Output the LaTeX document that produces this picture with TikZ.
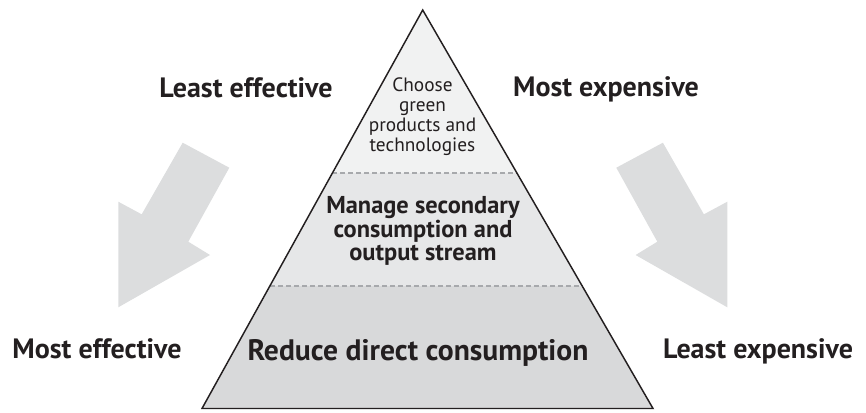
\documentclass[tikz,border=0pt]{standalone}
\usepackage{fontspec}
\setmainfont{PT Sans}
\usetikzlibrary{calc}
\definecolor{arrowgray}{HTML}{DCDDDE}
\definecolor{topfill}{HTML}{F1F2F2}
\definecolor{midfill}{HTML}{E6E7E8}
\definecolor{botfill}{HTML}{D8D9DA}
\definecolor{dashgray}{HTML}{A7A9AC}
\definecolor{textblack}{HTML}{231F20}
\tikzset{
  biglabel/.style={anchor=base, text=textblack, font=\bfseries\fontsize{21}{24}\selectfont, inner sep=0pt},
  tierline/.style={draw=dashgray, line width=0.8pt, dash pattern=on 3.5pt off 2.5pt},
  bigarrow/.style={fill=arrowgray, draw=none},
}
\begin{document}
\begin{tikzpicture}[x=0.75pt, y=-0.75pt]
\useasboundingbox (0,0) rectangle (866,412);
% pyramid corners
\coordinate (A) at (422.7,10);
\coordinate (BL) at (202,408.5);
\coordinate (BR) at (653,408.5);
\coordinate (L1) at ($(A)!{163/398.5}!(BL)$);
\coordinate (R1) at ($(A)!{163/398.5}!(BR)$);
\coordinate (L2) at ($(A)!{276/398.5}!(BL)$);
\coordinate (R2) at ($(A)!{276/398.5}!(BR)$);
% arrows
\fill[bigarrow] (182.7,142.7) -- (229.3,167.7) -- (188.3,241.7) -- (210,255) -- (118.3,307.3) -- (118.3,201.7) -- (141.7,214.3) -- cycle;
\fill[bigarrow] (662.9,142.7) -- (616.3,167.7) -- (657.3,241.7) -- (635.6,255) -- (727.3,307.3) -- (727.3,201.7) -- (703.9,214.3) -- cycle;
% tiers
\fill[topfill] (A) -- (L1) -- (R1) -- cycle;
\fill[midfill] (L1) -- (L2) -- (R2) -- (R1) -- cycle;
\fill[botfill] (L2) -- (BL) -- (BR) -- (R2) -- cycle;
\draw[tierline] (L1) -- (R1);
\draw[tierline] (L2) -- (R2);
\draw[line width=1.1pt, line join=miter, textblack] (A) -- (BL) -- (BR) -- cycle;
% tier texts
\node[align=center, text=textblack, inner sep=0pt, font=\fontsize{14.5}{15}\selectfont] (t1) at (422.5,117) {Choose\\green\\products and\\technologies};
\node[align=center, text=textblack, inner sep=0pt, font=\bfseries\fontsize{18.3}{17.6}\selectfont] (t2) at (423,231) {Manage secondary\\consumption and\\output stream};
\node[anchor=base, text=textblack, inner sep=0pt, font=\bfseries\fontsize{22.2}{26}\selectfont] (t3) at (418,360) {Reduce direct consumption};
% side labels
\node[biglabel] (le) at (246,97) {Least effective};
\node[biglabel] (me) at (606,96) {Most expensive};
\node[biglabel] (mef) at (97,358) {Most effective};
\node[biglabel] (lex) at (758,358) {Least expensive};
\end{tikzpicture}
\end{document}
